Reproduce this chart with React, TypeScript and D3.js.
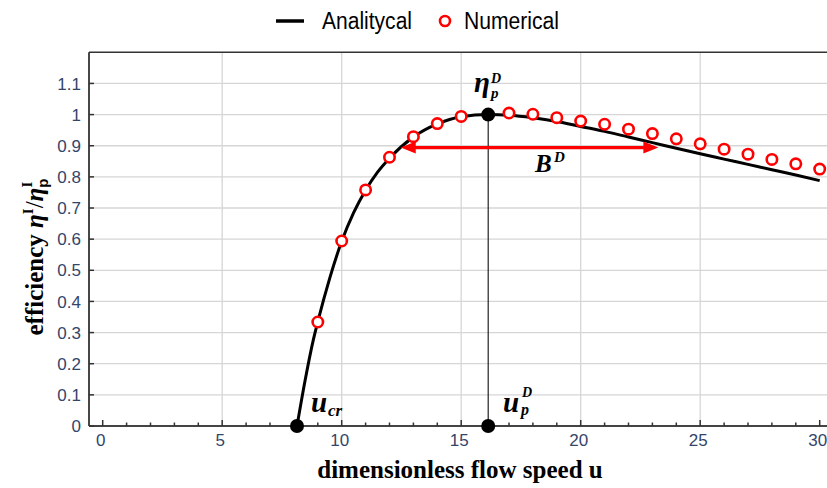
import React from "react";
import * as d3 from "d3";

// ---- data ----
const analyticU = [8.13, 8.47, 8.81, 9.0, 9.5, 10, 10.5, 11, 11.5, 12, 13, 14, 15, 16.13, 17, 18, 19, 20, 21, 22, 23, 24, 25, 26, 27, 28, 29, 30];
const analyticEta = [0, 0.147, 0.276, 0.335, 0.475, 0.593, 0.685, 0.757, 0.815, 0.86, 0.928, 0.97, 0.993, 1.0, 0.998, 0.99, 0.978, 0.962, 0.946, 0.928, 0.91, 0.892, 0.874, 0.857, 0.84, 0.823, 0.806, 0.788];

const numericU = [9, 10, 11, 12, 13, 14, 15, 17, 18, 19, 20, 21, 22, 23, 24, 25, 26, 27, 28, 29, 30];
const numericEta = [0.334, 0.594, 0.758, 0.863, 0.929, 0.971, 0.994, 1.005, 1.001, 0.99, 0.979, 0.969, 0.953, 0.939, 0.922, 0.906, 0.889, 0.873, 0.856, 0.842, 0.825];

const xTicksMajor = [0, 5, 10, 15, 20, 25, 30];
const xTicksMinor = d3.range(0, 31, 1);
const xGrid = [5, 10, 15, 20, 25];
const yTicks = [0, 0.1, 0.2, 0.3, 0.4, 0.5, 0.6, 0.7, 0.8, 0.9, 1, 1.1];
const yTickLabels = ["0", "0.1", "0.2", "0.3", "0.4", "0.5", "0.6", "0.7", "0.8", "0.9", "1", "1.1"];

const uCr = 8.13;
const uPeak = 16.13;
const etaPeak = 1.0;
const bandLevel = 0.894;
const bandLeft = 12.47;
const bandRight = 23.25;

export default function App() {
  const W = 827, H = 488;
  const x = d3.scaleLinear().domain([0, 30]).range([102.7, 819.7]);
  const y = d3.scaleLinear().domain([0, 1.2]).range([426, 52.3]);
  const left = 89, right = 827, top = y(1.2), bottom = y(0);

  const pts = analyticU.map((u, i) => [u, analyticEta[i]] as [number, number]);
  const line = d3.line<[number, number]>().x(d => x(d[0])).y(d => y(d[1])).curve(d3.curveMonotoneX);

  const tickFont = "'Liberation Sans Narrow', 'Arial Narrow', 'Liberation Sans', Arial, sans-serif";
  const tickColor = "#34456a";
  const serif = "'Liberation Serif', 'Times New Roman', serif";

  const ay = y(bandLevel);
  const ax1 = x(bandLeft), ax2 = x(bandRight);
  const head = 15, hw = 6;

  return (
    <svg width={W} height={H} style={{ position: "absolute", left: 0, top: 0, background: "#fff" }}>
      <rect x={0} y={0} width={W} height={H} fill="#fff" />
      {/* grid */}
      {yTicks.filter(t => t > 0).map(t => (
        <line key={"gy" + t} x1={left} x2={right} y1={y(t)} y2={y(t)} stroke="#d6d6d6" strokeWidth={1.3} />
      ))}
      {xGrid.map(t => (
        <line key={"gx" + t} x1={x(t)} x2={x(t)} y1={top} y2={bottom} stroke="#d6d6d6" strokeWidth={1.3} />
      ))}
      {/* frame */}
      <line x1={left} x2={right} y1={top} y2={top} stroke="#333" strokeWidth={1.5} />
      <line x1={left} x2={left} y1={top} y2={bottom} stroke="#333" strokeWidth={1.8} />
      <line x1={left} x2={right} y1={bottom} y2={bottom} stroke="#444" strokeWidth={2.2} />
      {/* ticks */}
      {yTicks.map(t => (
        <line key={"ty" + t} x1={left} x2={left + 5} y1={y(t)} y2={y(t)} stroke="#333" strokeWidth={1.5} />
      ))}
      {xTicksMinor.map(t => (
        <line key={"tx" + t} x1={x(t)} x2={x(t)} y1={bottom} y2={bottom - (t % 5 === 0 ? 6 : 3.5)} stroke="#333" strokeWidth={1.5} />
      ))}
      {/* tick labels */}
      {yTicks.map((t, i) => (
        <text key={"ly" + t} x={81} y={y(t)} dy="0.36em" textAnchor="end" fontFamily={tickFont} fontSize={17} fill={tickColor}>{yTickLabels[i]}</text>
      ))}
      {xTicksMajor.map(t => (
        <text key={"lx" + t} x={x(t) - 2} y={446} textAnchor="middle" fontFamily={tickFont} fontSize={17} fill={tickColor}>{t}</text>
      ))}
      {/* vertical peak line */}
      <line x1={x(uPeak)} x2={x(uPeak)} y1={y(0)} y2={y(etaPeak)} stroke="#222" strokeWidth={1.2} />
      {/* analytical curve */}
      <path d={line(pts) || ""} fill="none" stroke="#000" strokeWidth={3} />
      {/* numerical points */}
      {numericU.map((u, i) => (
        <circle key={"n" + u} cx={x(u)} cy={y(numericEta[i])} r={5.2} fill="#fff" stroke="#ff0000" strokeWidth={2.6} />
      ))}
      {/* black markers */}
      <circle cx={x(uCr)} cy={y(0)} r={7} fill="#000" />
      <circle cx={x(uPeak)} cy={y(0)} r={7} fill="#000" />
      <circle cx={x(uPeak)} cy={y(etaPeak)} r={7} fill="#000" />
      {/* bandwidth arrow */}
      <line x1={ax1 + head - 2} x2={ax2 - head + 2} y1={ay} y2={ay} stroke="#ff0000" strokeWidth={3.2} />
      <path d={`M${ax1},${ay} L${ax1 + head},${ay - hw} L${ax1 + head},${ay + hw} Z`} fill="#ff0000" />
      <path d={`M${ax2},${ay} L${ax2 - head},${ay - hw} L${ax2 - head},${ay + hw} Z`} fill="#ff0000" />
      {/* annotations */}
      <g fontFamily={serif} fontWeight="bold" fontStyle="italic" fill="#000">
        <text x={474} y={92} fontSize={29}>η</text>
        <text x={491} y={83} fontSize={14}>D</text>
        <text x={491} y={98} fontSize={15}>p</text>

        <text x={535} y={172} fontSize={25}>B</text>
        <text x={554} y={162} fontSize={15}>D</text>

        <text x={311} y={412} fontSize={29}>u</text>
        <text x={328} y={416} fontSize={17}>cr</text>

        <text x={503} y={412} fontSize={29}>u</text>
        <text x={522} y={397} fontSize={14}>D</text>
        <text x={521} y={415} fontSize={16}>p</text>
      </g>
      {/* axis titles */}
      <text x={460} y={478} textAnchor="middle" fontFamily={serif} fontWeight="bold" fontSize={25} fill="#000">dimensionless flow speed u</text>
      <g transform="translate(43,257) rotate(-90)">
        <text x={0} y={0} textAnchor="middle" fontFamily={serif} fontWeight="bold" fontSize={25} fill="#000">
          <tspan>efficiency </tspan>
          <tspan fontStyle="italic">η</tspan>
          <tspan dy={-10} fontSize={15}>I</tspan>
          <tspan dy={10} fontWeight="normal">/</tspan>
          <tspan fontStyle="italic">η</tspan>
          <tspan dy={5} fontSize={15} fontFamily="'Liberation Sans', Arial, sans-serif">p</tspan>
          <tspan dx={-9} dy={-16} fontSize={15}>I</tspan>
        </text>
      </g>
      {/* legend */}
      <line x1={276} x2={304} y1={21} y2={21} stroke="#000" strokeWidth={3.5} />
      <text x={322} y={29} fontFamily={tickFont} fontSize={23} fill="#000" textLength={90} lengthAdjust="spacingAndGlyphs">Analitycal</text>
      <circle cx={445} cy={21} r={5} fill="#fff" stroke="#ff0000" strokeWidth={2.6} />
      <text x={464} y={29} fontFamily={tickFont} fontSize={23} fill="#000" textLength={95} lengthAdjust="spacingAndGlyphs">Numerical</text>
    </svg>
  );
}
